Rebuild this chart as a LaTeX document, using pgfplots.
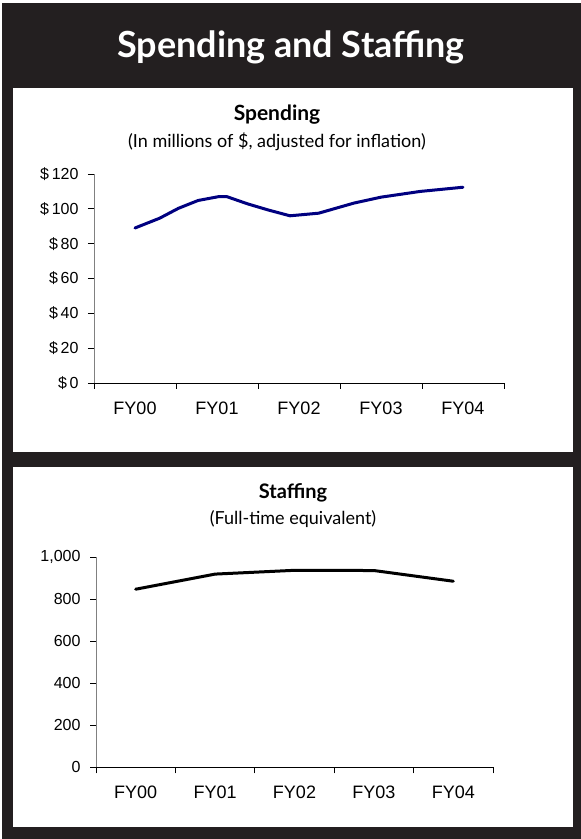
\documentclass[border=0pt]{standalone}
\usepackage{fontspec}
\setmainfont{Liberation Sans}
\newfontfamily\headfont{Lato}
\usepackage{pgfplots}
\usepackage{pgfplotstable}
\pgfplotsset{compat=1.18}
\definecolor{framedark}{HTML}{231F20}
\definecolor{navyline}{HTML}{000080}

\pgfplotstableread{
x y
0.00 89.0
0.30 94.6
0.53 100.3
0.77 104.8
1.02 107.0
1.12 107.0
1.37 102.9
1.62 99.4
1.89 96.0
2.24 97.5
2.67 103.3
3.00 106.7
3.48 110.0
4.00 112.4
}\spending

\pgfplotstableread{
x y
0.0 848
0.5 884
1.0 920
2.0 938
3.0 937
4.0 886
}\staffing

\pgfplotsset{
  panel/.style={
    scale only axis,
    anchor=south west,
    axis lines*=left,
    tick align=outside,
    xmin=-0.5, xmax=4.5,
    xtick={-0.5,0.5,...,4.5},
    xticklabels={},
    extra x ticks={0,1,2,3,4},
    extra x tick labels={FY00,FY01,FY02,FY03,FY04},
    extra x tick style={major tick length=0pt},
    major tick length=6pt,
    tick style={black, line width=0.8pt},
    x axis line style={black, line width=0.8pt},
    y axis line style={gray, line width=0.8pt},
    yticklabel style={font=\fontsize{16}{18}\selectfont, xshift=-6pt},
    xticklabel style={font=\fontsize{18}{20}\selectfont, yshift=-15pt},
    clip=false,
  }
}

\begin{document}
\begin{tikzpicture}[x=1pt,y=1pt]
\useasboundingbox (0,0) rectangle (581,839);
\fill[white] (0,0) rectangle (581,839);
\fill[framedark] (2,0) rectangle (581,836);
\fill[white] (13,387) rectangle (573,751);
\fill[white] (13,12) rectangle (573,372);

\node[white, font=\headfont\bfseries\fontsize{36}{40}\selectfont, anchor=base] at (291,781) {Spending and Staffing};

\node[font=\headfont\bfseries\fontsize{21}{24}\selectfont, anchor=base] at (277,718) {Spending};
\node[font=\headfont\fontsize{18}{20}\selectfont, anchor=base] at (277,691) {(In millions of \$, adjusted for inflation)};

\node[font=\headfont\bfseries\fontsize{20}{24}\selectfont, anchor=base] at (293,340) {Staffing};
\node[font=\headfont\fontsize{18}{20}\selectfont, anchor=base] at (293,314) {(Full-time equivalent)};

\begin{axis}[panel,
  at={(94pt,456pt)}, width=410pt, height=209pt,
  ymin=0, ymax=120,
  ytick={0,20,40,60,80,100,120},
  yticklabels={\$\,0,\$\,20,\$\,40,\$\,60,\$\,80,\$\,100,\$\,120},
]
\addplot[navyline, line width=3pt, line join=round, line cap=round] table[x=x,y=y] {\spending};
\end{axis}

\begin{axis}[panel,
  at={(96pt,71.7pt)}, width=397pt, height=210pt,
  ymin=0, ymax=1000,
  ytick={0,200,400,600,800,1000},
  yticklabels={0,200,400,600,800,{1,000}},
]
\addplot[black, line width=3pt, line join=round, line cap=round] table[x=x,y=y] {\staffing};
\end{axis}
\end{tikzpicture}
\end{document}
